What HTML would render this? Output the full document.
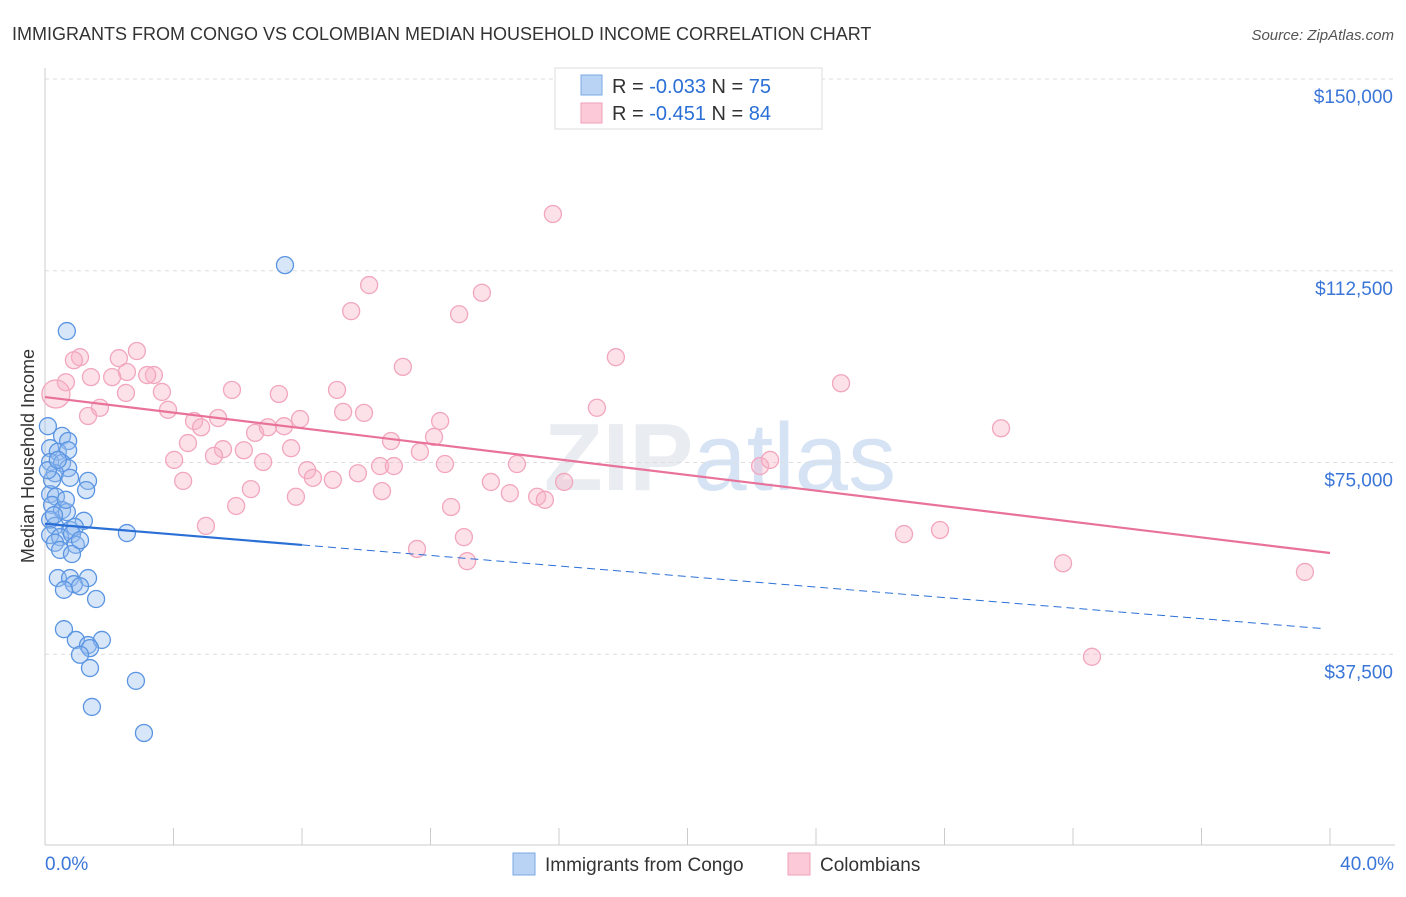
<!DOCTYPE html>
<html><head><meta charset="utf-8"><style>
body{margin:0;background:#fff;font-family:"Liberation Sans",sans-serif;}
svg text{font-family:"Liberation Sans",sans-serif;}
</style></head><body>
<svg id="chart" width="1406" height="892" xmlns="http://www.w3.org/2000/svg">
<text x="12" y="40" font-size="18" fill="#333">IMMIGRANTS FROM CONGO VS COLOMBIAN MEDIAN HOUSEHOLD INCOME CORRELATION CHART</text>
<text x="1394" y="40" font-size="15" fill="#555" text-anchor="end" font-style="italic">Source: ZipAtlas.com</text>
<text x="720" y="490" font-size="96" fill="#e9ecf0" text-anchor="middle" font-family="Liberation Serif"><tspan font-weight="bold">ZIP</tspan><tspan fill="#d5e3f5" font-family="Liberation Sans">atlas</tspan></text>
<g id="grid"></g>
<g id="axes"></g>
<g id="pink"></g>
<g id="blue"></g>
<g id="trends"></g>
<text transform="translate(34,456) rotate(-90)" font-size="18" fill="#333" text-anchor="middle">Median Household Income</text>
<g>
<rect x="555" y="68" width="267" height="61" fill="#fff" stroke="#ddd"/>
<rect x="581" y="75" width="21" height="20" fill="#b9d3f5" stroke="#7aa8e6"/>
<rect x="581" y="103" width="21" height="20" fill="#fbc9d8" stroke="#f0a0b8"/>
<text x="612" y="93" font-size="20" fill="#333">R = <tspan fill="#2a6fd6">-0.033</tspan>   N = <tspan fill="#2a6fd6">75</tspan></text>
<text x="612" y="120" font-size="20" fill="#333">R =  <tspan fill="#2a6fd6">-0.451</tspan>   N = <tspan fill="#2a6fd6">84</tspan></text>
</g>
<g>
<rect x="513" y="853" width="22" height="22" fill="#b9d3f5" stroke="#7aa8e6"/>
<text x="545" y="871" font-size="19" fill="#333">Immigrants from Congo</text>
<rect x="788" y="853" width="22" height="22" fill="#fbc9d8" stroke="#f0a0b8"/>
<text x="820" y="871" font-size="19" fill="#333">Colombians</text>
</g>
</svg>
<script>
const yTicks=[37500,75000,112500,150000];
const yTickLabels=["$37,500","$75,000","$112,500","$150,000"];
const xTickCount=[0,4,8,12,16,20,24,28,32,36,40];
const xEndLabels=["0.0%","40.0%"];
const blueX=[0.68,7.47,0.09,0.53,0.72,0.16,0.40,0.72,0.16,0.53,0.72,0.31,0.78,1.34,1.28,0.16,0.34,0.22,0.53,0.68,0.16,1.21,0.31,0.78,0.93,2.55,0.16,0.47,0.84,0.31,0.96,0.47,0.84,0.40,0.78,1.34,0.90,1.09,1.59,0.59,0.96,1.34,1.77,1.40,1.09,1.40,2.83,1.46,3.08,0.22,0.09,0.40,0.65,1.09,0.59,0.28];
const blueY=[100.7,113.6,82.1,80.2,79.2,77.8,77.1,77.4,75.1,74.9,73.9,72.9,72.0,71.4,69.6,68.8,68.3,66.7,65.7,65.3,63.8,63.6,62.6,61.8,62.4,61.2,60.8,60.4,61.0,59.3,58.9,57.9,57.1,52.4,52.4,52.4,51.2,50.8,48.3,42.4,40.3,39.3,40.3,38.7,37.4,34.8,32.3,27.2,22.1,71.6,73.5,75.5,67.7,59.8,50.1,64.7];
const pinkX=[15.81,10.09,13.60,9.53,12.89,17.77,11.14,2.86,1.09,0.90,2.30,2.55,2.09,3.39,3.18,1.43,0.65,0.34,2.52,3.64,5.82,7.28,9.09,24.78,1.71,1.34,3.83,5.39,4.64,4.86,7.94,9.28,9.93,12.30,17.18,29.76,4.45,6.54,6.94,7.44,6.19,5.54,5.26,7.66,12.11,10.77,11.67,4.02,6.79,10.43,10.86,12.45,14.69,9.74,8.16,8.34,4.30,8.96,16.16,13.88,6.41,7.81,10.49,14.47,15.32,15.56,5.95,12.64,22.26,22.57,5.01,26.74,27.86,13.04,11.58,13.14,31.69,39.22,32.59];
const pinkY=[123.6,109.7,108.2,104.6,104.0,95.6,93.7,96.8,95.6,95.0,95.4,92.7,91.7,92.1,92.1,91.7,90.7,88.4,88.6,88.8,89.2,88.4,89.2,90.5,85.7,84.1,85.3,83.7,83.1,81.9,83.5,84.9,84.7,83.1,85.7,81.7,78.8,80.8,81.9,82.1,77.4,77.6,76.3,77.8,80.0,79.2,77.1,75.5,75.1,74.3,74.3,74.7,74.7,72.9,73.5,72.0,71.4,71.6,71.2,71.2,69.8,68.3,69.4,69.0,68.3,67.7,66.5,66.3,74.3,75.5,62.6,61.0,61.8,60.4,58.1,55.7,55.3,53.6,37.0];
const blueTrend=[63.0,42.4]; // income (k) at 0% and 40%
const pinkTrend=[87.8,57.3];
const blueSolidEnd=8;
const NS="http://www.w3.org/2000/svg";
const X0=45,X1=1330,Y0=846,YTOP=79;
const sx=v=>X0+(X1-X0)*v/40;
const sy=v=>Y0-(Y0-YTOP)*v/150000;
function mk(tag,attrs,parent){const e=document.createElementNS(NS,tag);for(const k in attrs)e.setAttribute(k,attrs[k]);parent.appendChild(e);return e;}
const grid=document.getElementById('grid'),axes=document.getElementById('axes');
yTicks.forEach((t,i)=>{
  const l=mk('line',{x1:X0,x2:1395,y1:sy(t),y2:sy(t),stroke:'#ddd','stroke-dasharray':'4,4'},grid);
  
  
  const tx=mk('text',{x:1393,y:sy(t)+24,'font-size':19,fill:'#3a76d8','text-anchor':'end'},axes);
  tx.textContent=yTickLabels[i];
  
  
});
mk('line',{x1:X0,x2:X0,y1:68,y2:845,stroke:'#ccc'},axes);
mk('line',{x1:X0,x2:1395,y1:845,y2:845,stroke:'#ccc'},axes);
xTickCount.forEach(t=>{
  const l=mk('line',{x1:sx(t),x2:sx(t),y1:828,y2:845,stroke:'#ccc'},axes);
  
  
});
let a=mk('text',{x:45,y:870,'font-size':19,fill:'#3a76d8'},axes);a.textContent=xEndLabels[0];


a=mk('text',{x:1394,y:870,'font-size':19,fill:'#3a76d8','text-anchor':'end'},axes);a.textContent=xEndLabels[1];


const pg=document.getElementById('pink');
pinkX.forEach((x,i)=>{
  const c=mk('circle',{cx:sx(x),cy:sy(pinkY[i]*1000),r:(i===17?14:8.5),fill:'rgba(248,175,198,0.38)',stroke:'#f2a6be','stroke-width':1.3},pg);
  
  
});
const bg=document.getElementById('blue');
blueX.forEach((x,i)=>{
  const c=mk('circle',{cx:sx(x),cy:sy(blueY[i]*1000),r:8.5,fill:'rgba(150,190,240,0.38)',stroke:'#5b95e2','stroke-width':1.3},bg);
  
  
});
const tg=document.getElementById('trends');
const by=x=>blueTrend[0]+(blueTrend[1]-blueTrend[0])*x/40;
let t=mk('line',{x1:sx(0),y1:sy(by(0)*1000),x2:sx(blueSolidEnd),y2:sy(by(blueSolidEnd)*1000),stroke:'#2a6fd6','stroke-width':2.2},tg);


t=mk('line',{x1:sx(blueSolidEnd),y1:sy(by(blueSolidEnd)*1000),x2:sx(39.8),y2:sy(by(39.8)*1000),stroke:'#2a6fd6','stroke-width':1,'stroke-dasharray':'8,5'},tg);


t=mk('line',{x1:sx(0),y1:sy(pinkTrend[0]*1000),x2:sx(40),y2:sy(pinkTrend[1]*1000),stroke:'#e8729a','stroke-width':2.2},tg);


</script>
</body></html>
